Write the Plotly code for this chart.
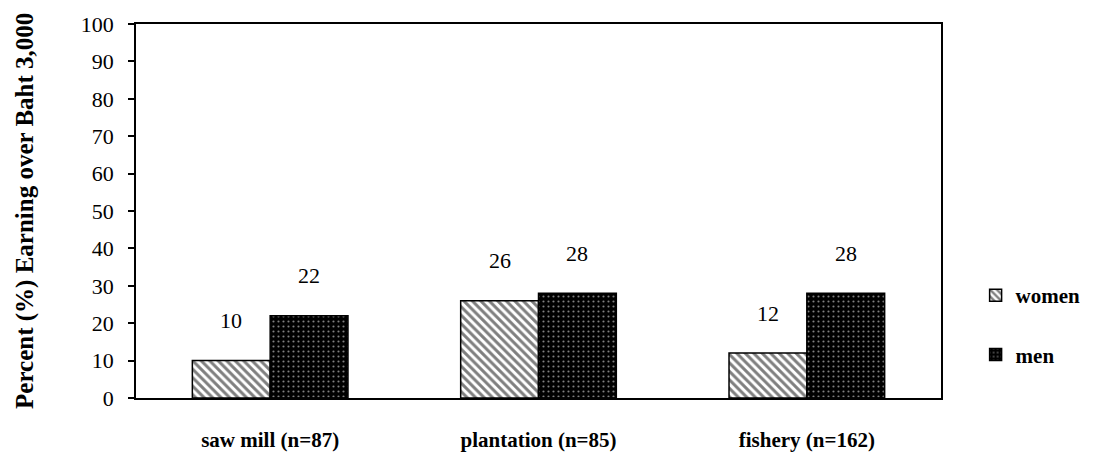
import plotly.graph_objects as go

categories = ["saw mill (n=87)", "plantation (n=85)", "fishery (n=162)"]
women = [10, 26, 12]
men = [22, 28, 28]
y_ticks = [0, 10, 20, 30, 40, 50, 60, 70, 80, 90, 100]
y_title = "Percent (%) Earning over Baht 3,000"

idx = list(range(len(categories)))
bargap = 0.42
half = (1 - bargap) / 4  # half of a single bar width (two bars per group)

SERIF = "Liberation Serif"

fig = go.Figure()
fig.add_trace(go.Bar(
    x=idx, y=women, name="women", legendgroup="women",
    marker=dict(color="white", line=dict(color="black", width=1.5),
                pattern=dict(shape="\\", fgcolor="black", bgcolor="white",
                             size=6, solidity=0.5)),
))
fig.add_trace(go.Bar(
    x=idx, y=men, name="men", legendgroup="men",
    marker=dict(color="black", line=dict(color="black", width=1.5),
                pattern=dict(shape=".", fgcolor="white", bgcolor="black",
                             size=5, solidity=0.15)),
))

annotations = []
for i, (w, m) in enumerate(zip(women, men)):
    annotations.append(dict(x=i - half, y=w, text=str(w), showarrow=False,
                            yshift=40, font=dict(family=SERIF, size=22, color="black")))
    annotations.append(dict(x=i + half, y=m, text=str(m), showarrow=False,
                            yshift=40, font=dict(family=SERIF, size=22, color="black")))
annotations.append(dict(xref="paper", yref="paper", x=-0.138, y=0.5,
                        xanchor="center", yanchor="middle", textangle=-90,
                        text=y_title, showarrow=False,
                        font=dict(family=SERIF, size=25, color="black", weight="bold")))

fig.update_layout(
    width=1090, height=448,
    margin=dict(l=128, r=157, t=16, b=58, autoexpand=False),
    paper_bgcolor="white", plot_bgcolor="white",
    barmode="group", bargap=bargap, bargroupgap=0,
    font=dict(family=SERIF, color="black"),
    annotations=annotations,
    legend=dict(x=1.043, y=0.195, xanchor="left", yanchor="middle",
                font=dict(family=SERIF, size=21, color="black", weight="bold"),
                tracegroupgap=29, itemwidth=30, traceorder="grouped",
                bgcolor="rgba(0,0,0,0)"),
    showlegend=True,
)
fig.update_xaxes(
    tickmode="array", tickvals=idx, ticktext=categories,
    range=[-0.5, len(categories) - 0.5],
    showline=True, linecolor="black", linewidth=1.5, mirror=True,
    ticks="", showgrid=False, zeroline=False, automargin=False,
    tickfont=dict(family=SERIF, size=21, color="black", weight="bold"),
    ticklabelstandoff=22,
)
fig.update_yaxes(
    range=[0, 100], tickmode="array", tickvals=y_ticks,
    showline=True, linecolor="black", linewidth=1.5, mirror=True,
    ticks="outside", ticklen=6, tickwidth=1.5, tickcolor="black",
    showgrid=False, zeroline=False, automargin=False,
    tickfont=dict(family=SERIF, size=22, color="black"),
    ticklabelstandoff=10,
)

fig.write_html("out.html")
